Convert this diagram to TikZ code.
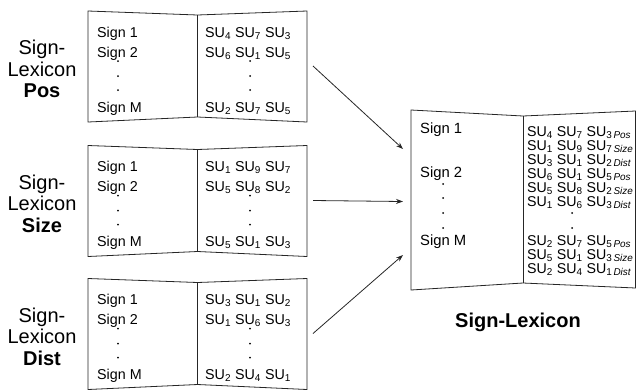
\documentclass[tikz,border=0pt]{standalone}
\usepackage{fontspec}
\setmainfont{Liberation Sans}
\usetikzlibrary{arrows.meta}
\newcommand{\su}[1]{SU\textsubscript{#1}}
\newcommand{\sut}[2]{SU\textsubscript{#1\,\textit{#2}}}
\begin{document}
\begin{tikzpicture}[x=1pt,y=-1pt,
  bookline/.style={draw=black!85, line width=0.8pt},
  lbl/.style={font=\fontsize{20}{21.5}\selectfont, align=center, inner sep=0pt},
  entry/.style={anchor=base west, inner sep=0pt, font=\fontsize{14.3}{14}\selectfont},
  bigentry/.style={anchor=base west, inner sep=0pt, font=\fontsize{14.8}{14}\selectfont},
  rowentry/.style={anchor=base west, inner sep=0pt, font=\fontsize{14.2}{14}\selectfont},
  dotmark/.style={circle, fill=black, inner sep=0pt, minimum size=2pt},
  conn/.style={-{Stealth[length=7pt,width=5pt]}, line width=0.8pt, black!85}]
\useasboundingbox (0,0) rectangle (636,389);
\clip (0,0) rectangle (636,389);

% left books
\foreach \i/\t/\lab/\ra/\rb/\rc in {
  1/11/Pos/{\su4 \su7 \su3}/{\su6 \su1 \su5}/{\su2 \su7 \su5},
  2/145.5/Size/{\su1 \su9 \su7}/{\su5 \su8 \su2}/{\su5 \su1 \su3},
  3/278.5/Dist/{\su3 \su1 \su2}/{\su1 \su6 \su3}/{\su2 \su4 \su1}}{
  \draw[bookline] (88,\t) -- (197.5,\t+4) -- (307,\t) -- (307,\t+111)
     -- (197.5,\t+106) -- (88,\t+111) -- cycle;
  \draw[bookline] (197.5,\t+4) -- (197.5,\t+106);
  \node[lbl] (lab\i) at (42,\t+58) {Sign-\\Lexicon\\\textbf{\lab}};
  \node[entry] (s1\i) at (97,\t+26) {Sign 1};
  \node[entry] (s2\i) at (97,\t+46) {Sign 2};
  \node[entry] (sm\i) at (97,\t+101) {Sign M};
  \node[entry] (ra\i) at (205,\t+26) {\ra};
  \node[entry] (rb\i) at (205,\t+46) {\rb};
  \node[entry] (rc\i) at (205,\t+101) {\rc};
  \node[dotmark] (dla\i) at (118,\t+50) {};
  \node[dotmark] (dlb\i) at (118,\t+65) {};
  \node[dotmark] (dlc\i) at (118,\t+79) {};
  \node[dotmark] (dra\i) at (250,\t+50) {};
  \node[dotmark] (drb\i) at (250,\t+65) {};
  \node[dotmark] (drc\i) at (250,\t+79) {};
  \coordinate (out\i) at (313,\t+55);
}

% right book
\draw[bookline] (411,110) -- (523,116) -- (635.6,111) -- (635.6,288)
   -- (523,283) -- (411,290) -- cycle;
\draw[bookline] (523,116) -- (523,283);
\node[bigentry] (S1) at (420,133) {Sign 1};
\node[bigentry] (S2) at (420,177) {Sign 2};
\node[bigentry] (SM) at (420,245) {Sign M};
\node[dotmark] (D1) at (443,184) {};
\node[dotmark] (D2) at (443,198) {};
\node[dotmark] (D3) at (443,213) {};
\node[dotmark] (D4) at (443,228) {};
\node[dotmark] (E1) at (572,213) {};
\node[dotmark] (E2) at (572,228) {};
\node[rowentry] (R1) at (527,136) {\su4 \su7 \sut{3}{Pos}};
\node[rowentry] (R2) at (527,150) {\su1 \su9 \sut{7}{Size}};
\node[rowentry] (R3) at (527,164) {\su3 \su1 \sut{2}{Dist}};
\node[rowentry] (R4) at (527,178) {\su6 \su1 \sut{5}{Pos}};
\node[rowentry] (R5) at (527,192) {\su5 \su8 \sut{2}{Size}};
\node[rowentry] (R6) at (527,206) {\su1 \su6 \sut{3}{Dist}};
\node[rowentry] (R7) at (527,245) {\su2 \su7 \sut{5}{Pos}};
\node[rowentry] (R8) at (527,259) {\su5 \su1 \sut{3}{Size}};
\node[rowentry] (R9) at (527,273) {\su2 \su4 \sut{1}{Dist}};
\node[font=\fontsize{20}{20}\selectfont\bfseries, inner sep=0pt] (title) at (518,322) {Sign-Lexicon};

\coordinate (in1) at (403,149);
\coordinate (in2) at (403,201.5);
\coordinate (in3) at (403,255);
\draw[conn] (out1) -- (in1);
\draw[conn] (out2) -- (in2);
\draw[conn] (out3) -- (in3);
\end{tikzpicture}
\end{document}
